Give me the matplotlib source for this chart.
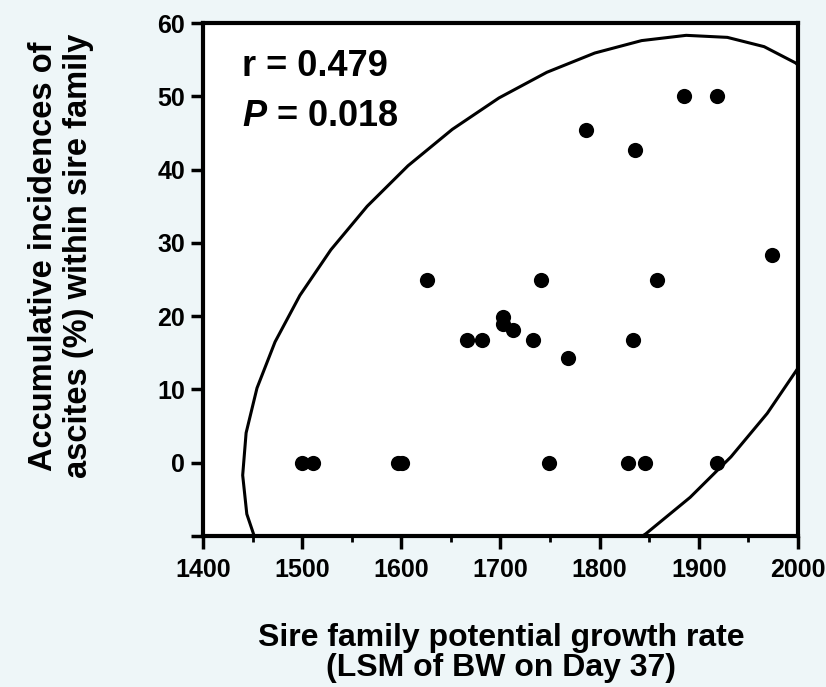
import numpy as np
import matplotlib
matplotlib.use("Agg")
import matplotlib.pyplot as plt

# sire family growth potential (LSM of BW, day 37) vs ascites incidence (%)
growth = [1500, 1511, 1597, 1601, 1749, 1829, 1846, 1918,
          1626, 1666, 1681, 1703, 1703, 1713, 1733, 1741,
          1768, 1834, 1858, 1885, 1918, 1786, 1836, 1974]
ascites = [0, 0, 0, 0, 0, 0, 0, 0,
           25, 16.7, 16.7, 19.9, 18.9, 18.1, 16.7, 25,
           14.3, 16.7, 25, 50, 50, 45.4, 42.7, 28.4]
r_text = "r = 0.479"
p_text = "$P$ = 0.018"

x_ticks = [1400, 1500, 1600, 1700, 1800, 1900, 2000]
y_ticks = [-10, 0, 10, 20, 30, 40, 50, 60]
y_ticklabels = ["", "0", "10", "20", "30", "40", "50", "60"]

plt.rcParams["font.family"] = ["Liberation Sans", "DejaVu Sans"]
plt.rcParams["font.weight"] = "bold"
plt.rcParams["mathtext.fontset"] = "custom"
plt.rcParams["mathtext.it"] = "Liberation Sans:bold:italic"
plt.rcParams["mathtext.rm"] = "Liberation Sans:bold"

bg = "#eef6f8"


def density_ellipse(x, y, chi2=5.991, n=40):
    # 95% bivariate normal density ellipse as a polyline
    x = np.asarray(x, float)
    y = np.asarray(y, float)
    cov = np.cov(x, y)
    vals, vecs = np.linalg.eigh(cov)
    t = np.linspace(0, 2 * np.pi, n + 1)
    circ = np.vstack([np.cos(t), np.sin(t)]) * np.sqrt(chi2 * vals)[:, None]
    pts = vecs @ circ
    return pts[0] + x.mean(), pts[1] + y.mean()


fig = plt.figure(figsize=(8.26, 6.87), dpi=100, facecolor=bg)
ax = fig.add_axes([0.2458, 0.2198, 0.7202, 0.7467])
ax.set_facecolor("white")

ex, ey = density_ellipse(growth, ascites)
ax.plot(ex, ey, color="black", lw=2.2, solid_joinstyle="miter")
ax.scatter(growth, ascites, s=120, color="black", zorder=3, linewidths=0)

ax.set_xlim(1400, 2000)
ax.set_ylim(-10, 60)
ax.set_xticks(x_ticks)
ax.set_xticks([v + 50 for v in x_ticks[:-1]], minor=True)
ax.set_yticks(y_ticks)
ax.set_yticklabels(y_ticklabels)
ax.tick_params(axis="both", which="major", direction="out", length=9,
               width=2.5, labelsize=18, pad=4)
ax.tick_params(axis="x", which="major", pad=7)
ax.tick_params(axis="x", which="minor", direction="out", length=4, width=2)
for s in ax.spines.values():
    s.set_linewidth(3)

ax.text(0.065, 0.915, r_text, transform=ax.transAxes, fontsize=26,
        fontweight="bold", va="center")
ax.text(0.065, 0.818, p_text, transform=ax.transAxes, fontsize=26,
        fontweight="bold", va="center")

fig.text(0.607, 0.05, "Sire family potential growth rate\n(LSM of BW on Day 37)",
         ha="center", va="center", fontsize=23, fontweight="bold",
         linespacing=1.0)
fig.text(0.074, 0.627, "Accumulative incidences of\nascites (%) within sire family",
         ha="center", va="center", rotation=90, fontsize=23.5,
         fontweight="bold", linespacing=1.15)

fig.savefig("out.png", dpi=100, facecolor=bg)
